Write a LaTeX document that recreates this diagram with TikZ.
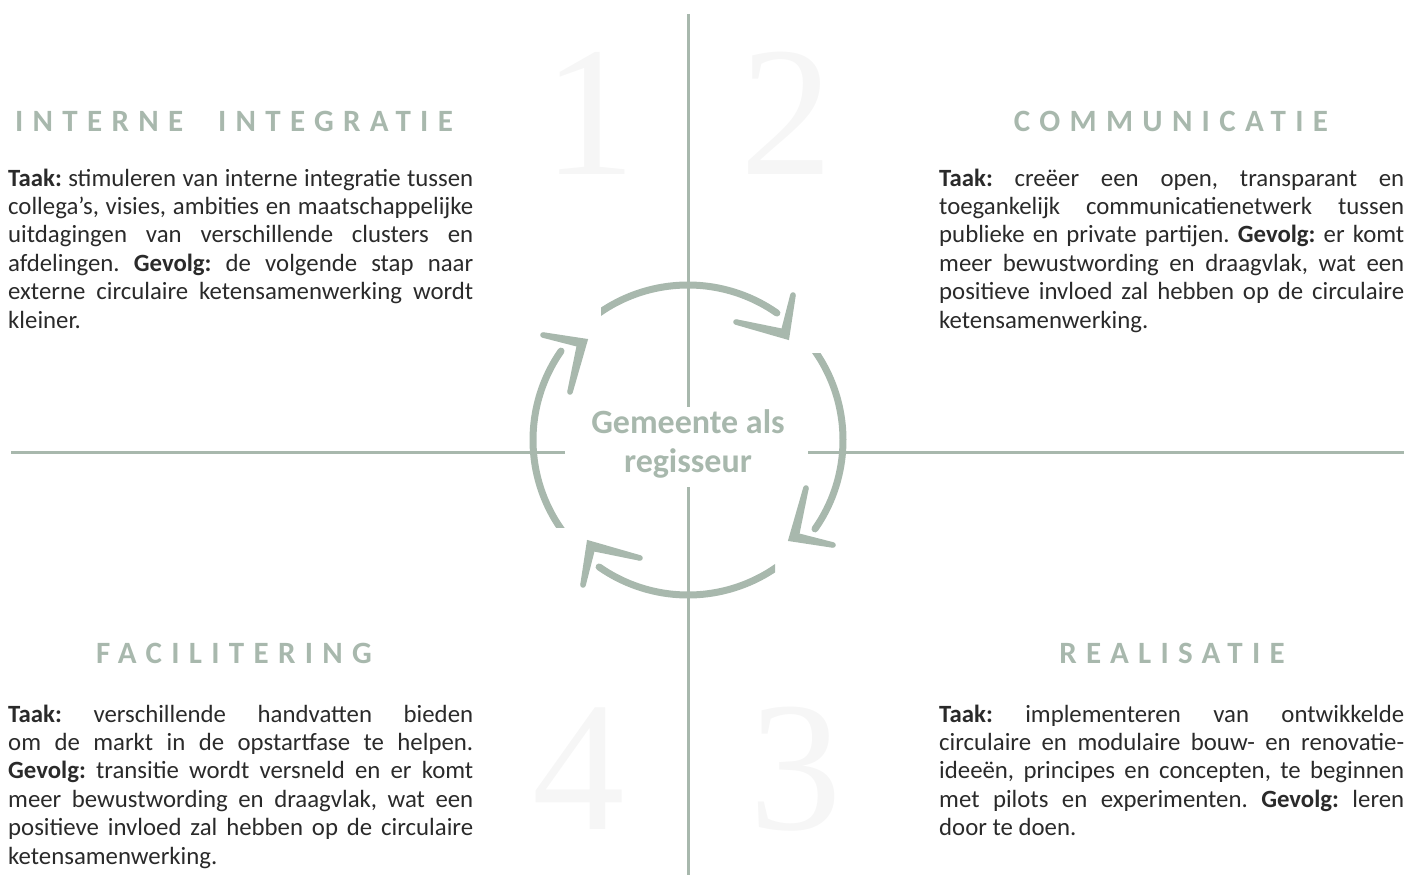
\documentclass[tikz,border=0pt]{standalone}
\usepackage{fontspec}
\usetikzlibrary{calc}
\setmainfont{Carlito}
\newfontfamily\numfont{Liberation Serif}
\newfontfamily\headfont[LetterSpace=30]{Carlito}
\definecolor{sage}{HTML}{A8B8AD}
\definecolor{bodytext}{HTML}{2A2A2A}
\definecolor{numgray}{HTML}{F6F6F6}
\frenchspacing
\hyphenpenalty=10000
\begin{document}
\begin{tikzpicture}[x=1pt,y=-1pt,
  rule/.style={draw=sage, line width=3pt},
  heading/.style={anchor=base, text=sage, inner sep=0, font=\headfont\bfseries\fontsize{31}{36}\selectfont},
  body/.style={anchor=base west, text=bodytext, text width=465pt, align=justify, inner sep=0,
    font=\fontsize{24.8}{28.4}\selectfont},
  bignum/.style={anchor=base, text=numgray, inner sep=0, font=\numfont\fontsize{185}{185}\selectfont},
  cyc/.style={draw=sage, line width=7pt, line cap=round},
  chev/.style={fill=sage, draw=none},
  centre/.style={anchor=base, text=sage, inner sep=0, font=\fontsize{34}{39}\selectfont\bfseries}
]
\useasboundingbox (0,0) rectangle (1422,875);
% big background numbers
\node[bignum] (n1) at (590,174) {1};
\node[bignum] (n2) at (787,174) {2};
\node[bignum] (n4) at (579,829) {4};
\node[bignum] (n3) at (796,829) {3};
% axes
\coordinate (vt) at (688,14);
\coordinate (vtb) at (688,407);
\coordinate (vbt) at (688,487);
\coordinate (vb) at (688,875);
\coordinate (hl) at (11,452);
\coordinate (hlr) at (565,452);
\coordinate (hrl) at (808,452);
\coordinate (hr) at (1404,452);
\draw[rule] (vt) -- (vtb);
\draw[rule] (vbt) -- (vb);
\draw[rule] (hl) -- (hlr);
\draw[rule] (hrl) -- (hr);
% cycle arrows
\foreach \k in {0,1,2,3}{
  \begin{scope}[rotate around={-90*\k:(688,440)}]
    \begin{scope}
      \clip (601,200) rectangle (900,445);
      \draw[cyc] plot[domain=-135:-55, samples=60] ({688+155*cos(\x)},{440+155*sin(\x)});
    \end{scope}
    \coordinate (T) at (785,334);
    \coordinate (A) at (793,295);
    \coordinate (B) at (736,322);
    \coordinate (TAo) at ($(T)!4.8pt!-90:(A)$);
    \coordinate (TAi) at ($(T)!4.8pt!90:(A)$);
    \coordinate (Ao) at ($(A)!2.8pt!90:(T)$);
    \coordinate (Ai) at ($(A)!2.8pt!-90:(T)$);
    \coordinate (TBo) at ($(T)!4.8pt!90:(B)$);
    \coordinate (TBi) at ($(T)!4.8pt!-90:(B)$);
    \coordinate (Bo) at ($(B)!2.8pt!-90:(T)$);
    \coordinate (Bi) at ($(B)!2.8pt!90:(T)$);
    \coordinate (O) at (intersection of Ao--TAo and Bo--TBo);
    \coordinate (I) at (intersection of Ai--TAi and Bi--TBi);
    \fill[chev] (Ao) -- (O) -- (Bo) -- (Bi) -- (I) -- (Ai) -- cycle;
    \fill[chev] (A) circle[radius=2.8pt];
    \fill[chev] (B) circle[radius=2.8pt];
  \end{scope}
}
% centre text
\node[centre] (c1) at (688,433) {Gemeente als};
\node[centre] (c2) at (688,472) {regisseur};
% headings
\node[heading] (h1) at (234,131) {INTERNE\hspace{35pt}INTEGRATIE};
\node[heading] (h2) at (1171,131) {COMMUNICATIE};
\node[heading] (h4) at (234,663) {FACILITERING};
\node[heading] (h3) at (1172,663) {REALISATIE};
% body texts
\node[body] (t1) at (8,186) {\textbf{Taak:} stimuleren van interne integratie tussen\linebreak collega’s, visies, ambities en maatschappelijke\linebreak uitdagingen van verschillende clusters en\linebreak afdelingen. \textbf{Gevolg:} de volgende stap naar\linebreak externe circulaire ketensamenwerking wordt\linebreak kleiner.};
\node[body] (t2) at (939,186) {\textbf{Taak:} creëer een open, transparant en\linebreak toegankelijk communicatienetwerk tussen\linebreak publieke en private partijen. \textbf{Gevolg:} er komt\linebreak meer bewustwording en draagvlak, wat een\linebreak positieve invloed zal hebben op de circulaire\linebreak ketensamenwerking.};
\node[body] (t4) at (8,722) {\textbf{Taak:} verschillende handvatten bieden\linebreak om de markt in de opstartfase te helpen.\linebreak \textbf{Gevolg:} transitie wordt versneld en er komt\linebreak meer bewustwording en draagvlak, wat een\linebreak positieve invloed zal hebben op de circulaire\linebreak ketensamenwerking.};
\node[body] (t3) at (939,722) {\textbf{Taak:} implementeren van ontwikkelde\linebreak circulaire en modulaire bouw- en renovatie-\linebreak ideeën, principes en concepten, te beginnen\linebreak met pilots en experimenten. \textbf{Gevolg:} leren\linebreak door te doen.};
\end{tikzpicture}
\end{document}
